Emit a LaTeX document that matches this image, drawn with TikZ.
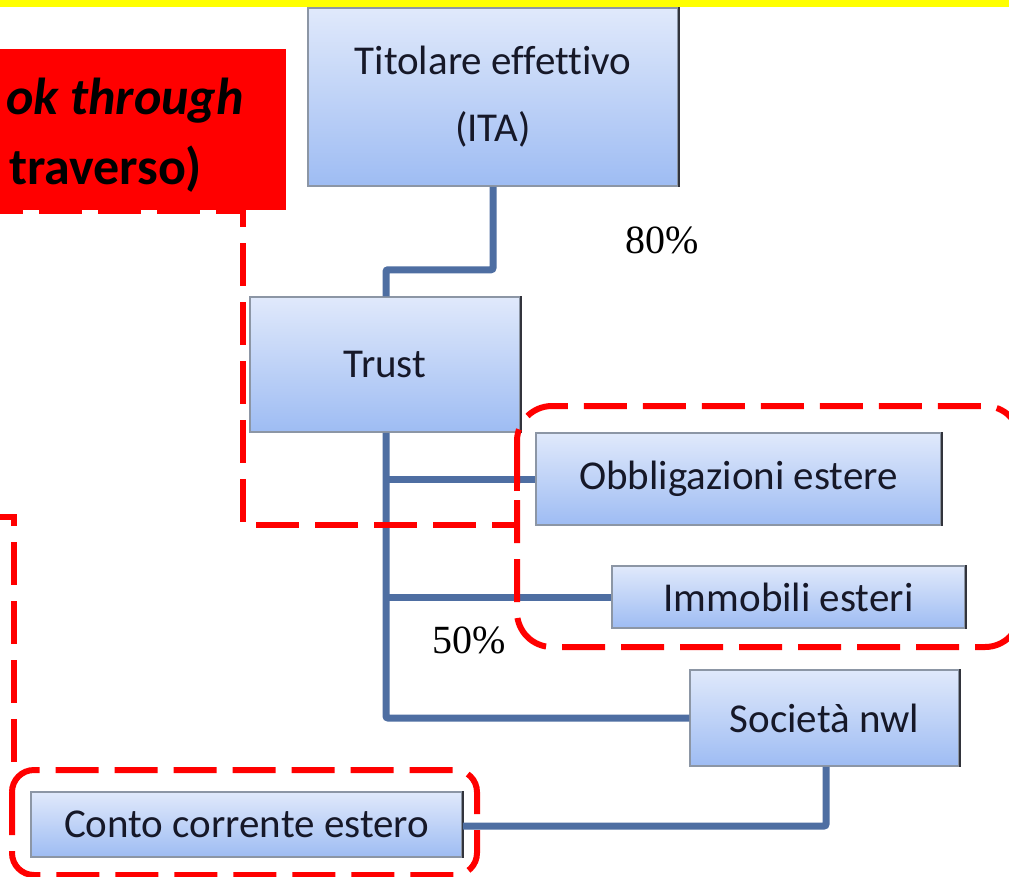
\documentclass[tikz,border=0pt]{standalone}
\usepackage{fontspec}
\setmainfont{Carlito}[Ligatures=CommonOff]
\newfontfamily\serifnum{Liberation Serif}
\definecolor{boxtop}{RGB}{224,233,251}
\definecolor{boxbot}{RGB}{158,188,243}
\definecolor{boxline}{RGB}{140,150,165}
\definecolor{boxedge}{RGB}{50,52,60}
\definecolor{connblue}{RGB}{78,110,162}
\definecolor{textnavy}{RGB}{22,24,40}
\definecolor{baryellow}{RGB}{255,255,0}
\definecolor{alertred}{RGB}{255,0,0}
\tikzset{
  entity/.style={draw=boxline, line width=1.5pt, top color=boxtop, bottom color=boxbot,
    inner sep=0pt, text=textnavy, align=center, font=\fontsize{41}{67}\selectfont},
  conn/.style={draw=connblue, line width=7pt, rounded corners=2pt},
  zone/.style={draw=alertred, line width=6pt, dash pattern=on 43pt off 16pt},
  pct/.style={font=\serifnum\fontsize{40}{46}\selectfont, text=black, inner sep=0pt},
  banner/.style={font=\bfseries\fontsize{52}{62}\selectfont, text=black, inner sep=0pt, anchor=base east}
}
\begin{document}
\begin{tikzpicture}[x=1pt,y=-1pt]
\clip (0,0) rectangle (1009,876);
\fill[white] (0,0) rectangle (1009,876);
% top bar
\fill[baryellow] (0,0) rectangle (1009,7);
% red banner
\fill[alertred] (0,49) rectangle (286,210);
\node[banner] (ban1) at (244,114) {\itshape ok through};
\node[banner] (ban2) at (202,184) {traverso)};

% boxes
\node[entity, minimum width=370pt, minimum height=178pt] (tit) at (493,97) {Titolare effettivo\\(ITA)};
\node[entity, minimum width=270pt, minimum height=135pt] (trust) at (385,364.5) {Trust};
\node[entity, minimum width=405pt, minimum height=92pt] (obb) at (738.5,479) {Obbligazioni estere};
\node[entity, minimum width=353pt, minimum height=62pt] (imm) at (788.5,597) {Immobili esteri};
\node[entity, minimum width=269pt, minimum height=96pt] (soc) at (824.5,718) {Società nwl};
\node[entity, minimum width=431pt, minimum height=65pt] (conto) at (246.5,824.5) {Conto corrente estero};
\foreach \n in {tit,trust,obb,imm,soc,conto}
  \draw[boxedge, line width=2pt] (\n.north east) -- (\n.south east);

% connectors
\coordinate (tnode) at ([xshift=1pt]trust.north);
\coordinate (tsouth) at ([xshift=1pt]trust.south);
\draw[conn] (tit.south) -- ++(0,83) -| (tnode);
\draw[conn] (tsouth) |- (soc.west);
\draw[conn] (tsouth |- obb.west) -- (obb.west);
\draw[conn] (tsouth |- imm.west) -- (imm.west);
\coordinate (ssouth) at ([xshift=1.5pt]soc.south);
\draw[conn] (ssouth) |- ([yshift=-1.5pt]conto.east);

% percentages
\node[pct] (p80) at (662,240) {80\%};
\node[pct] (p50) at (469,640) {50\%};

% dashed zones
\draw[zone] (-20,211) -- (243,211) -- (243,525) -- (517,525) -- (517,440);
\draw[zone, rounded corners=35pt] (517,406) rectangle (1020,647);
\draw[zone] (-20,517) -- (14,517) -- (14,765);
\draw[zone, rounded corners=22pt] (12,770) rectangle (477,875);
\end{tikzpicture}
\end{document}
